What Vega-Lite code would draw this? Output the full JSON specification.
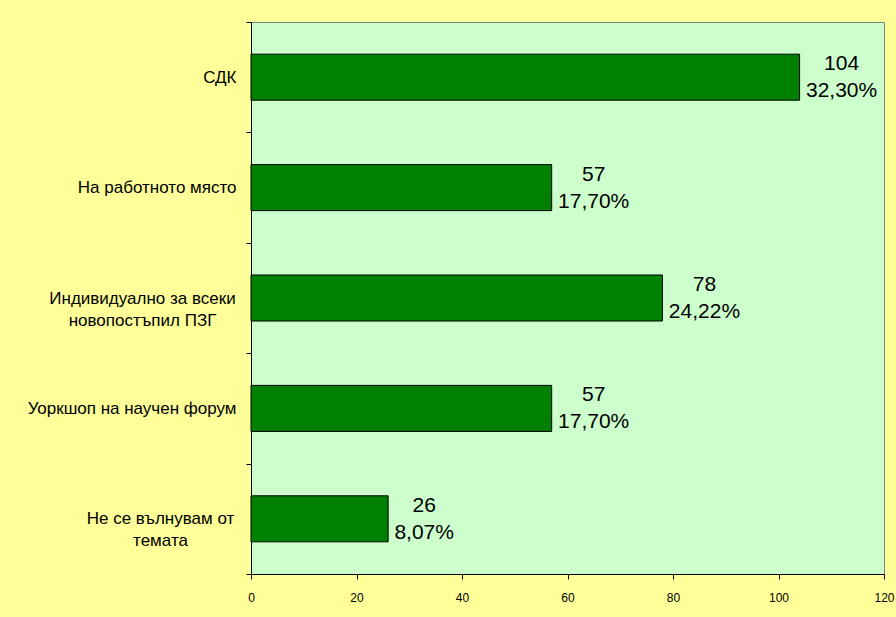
{
  "$schema": "https://vega.github.io/schema/vega-lite/v6.json",
  "autosize": {"type": "none"},
  "width": 633,
  "height": 552,
  "padding": {"left": 251, "top": 22, "right": 12, "bottom": 43},
  "background": "#FFFF99",
  "config": {
    "view": {"fill": "#CCFFCC", "stroke": "#808080", "strokeWidth": 1},
    "font": "Liberation Sans",
    "axis": {"grid": false, "domainColor": "#000000", "tickColor": "#000000", "labelColor": "#000000", "title": null}
  },
  "data": {
    "values": [
      {"answer": "СДК", "count": 104, "pct": "32,30%"},
      {"answer": "На работното място", "count": 57, "pct": "17,70%"},
      {"answer": "Индивидуално за всеки новопостъпил ПЗГ", "count": 78, "pct": "24,22%"},
      {"answer": "Уоркшоп на научен форум", "count": 57, "pct": "17,70%"},
      {"answer": "Не се вълнувам от темата", "count": 26, "pct": "8,07%"}
    ]
  },
  "encoding": {
    "y": {
      "field": "answer",
      "type": "nominal",
      "sort": null,
      "scale": {"paddingInner": 0, "paddingOuter": 0},
      "axis": {
        "tickBand": "extent",
        "tickSize": 5,
        "labelFontSize": 17,
        "labelLineHeight": 22,
        "labelLimit": 300,
        "labelPadding": {
          "condition": [
            {"test": "datum.value == 'Индивидуално за всеки новопостъпил ПЗГ'", "value": 104},
            {"test": "datum.value == 'Не се вълнувам от темата'", "value": 86}
          ],
          "value": 10
        },
        "labelAlign": {"condition": {"test": "datum.value == 'Индивидуално за всеки новопостъпил ПЗГ' || datum.value == 'Не се вълнувам от темата'", "value": "center"}, "value": "right"},
        "labelExpr": "datum.value == 'Индивидуално за всеки новопостъпил ПЗГ' ? ['Индивидуално за всеки', 'новопостъпил ПЗГ'] : datum.value == 'Не се вълнувам от темата' ? ['Не се вълнувам от', 'темата'] : datum.value"
      }
    },
    "x": {
      "field": "count",
      "type": "quantitative",
      "scale": {"domain": [0, 120], "nice": false},
      "axis": {"values": [0, 20, 40, 60, 80, 100, 120], "tickSize": 5, "labelFontSize": 12, "labelPadding": 13, "labelFlush": false, "labelOverlap": false}
    }
  },
  "layer": [
    {"mark": {"type": "bar", "height": {"band": 0.417}, "fill": "#008000", "stroke": "#000000", "strokeWidth": 1}},
    {
      "transform": [{"filter": "length(datum.pct) == 6"}],
      "mark": {"type": "text", "align": "center", "baseline": "middle", "dx": 42, "dy": -13, "fontSize": 21, "color": "#000000"},
      "encoding": {"text": {"field": "count", "type": "quantitative"}}
    },
    {
      "transform": [{"filter": "length(datum.pct) == 6"}],
      "mark": {"type": "text", "align": "center", "baseline": "middle", "dx": 42, "dy": 14, "fontSize": 21, "color": "#000000"},
      "encoding": {"text": {"field": "pct", "type": "nominal"}}
    },
    {
      "transform": [{"filter": "length(datum.pct) == 5"}],
      "mark": {"type": "text", "align": "center", "baseline": "middle", "dx": 36, "dy": -13, "fontSize": 21, "color": "#000000"},
      "encoding": {"text": {"field": "count", "type": "quantitative"}}
    },
    {
      "transform": [{"filter": "length(datum.pct) == 5"}],
      "mark": {"type": "text", "align": "center", "baseline": "middle", "dx": 36, "dy": 14, "fontSize": 21, "color": "#000000"},
      "encoding": {"text": {"field": "pct", "type": "nominal"}}
    }
  ]
}
